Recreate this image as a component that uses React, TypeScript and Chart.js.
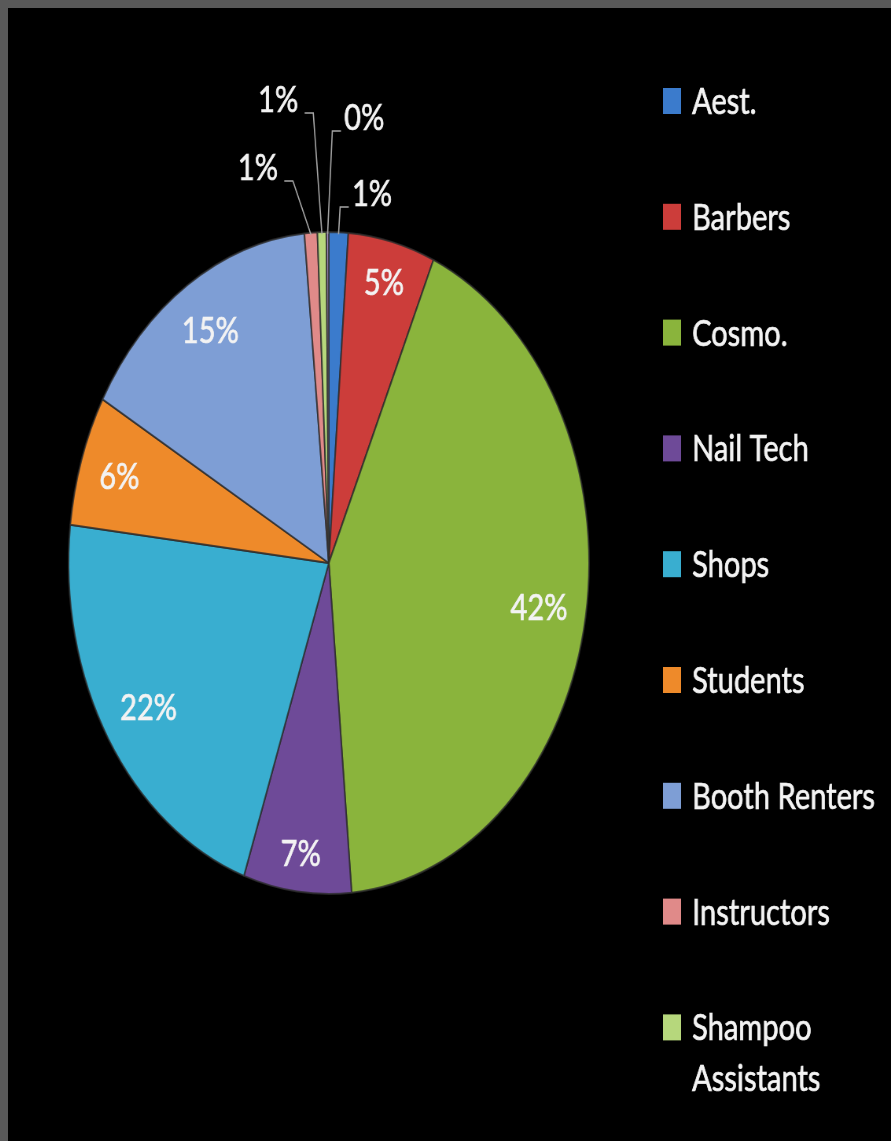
import React, { useEffect, useRef } from 'react';
import { Chart, ArcElement, PieController } from 'chart.js';

Chart.register(ArcElement, PieController);

// ---- data ----
const categories = [
  'Aest.',
  'Barbers',
  'Cosmo.',
  'Nail Tech',
  'Shops',
  'Students',
  'Booth Renters',
  'Instructors',
  'Shampoo Assistants',
  'Other',
];
const shares = [1.2, 5.4, 42.1, 6.7, 21.6, 6.4, 15.3, 0.8, 0.55, 0.15];
const colors = [
  '#3b7bcc',
  '#cc3d3a',
  '#8ab43c',
  '#6e4a98',
  '#39aed0',
  '#ee8a2a',
  '#7e9ed5',
  '#e08a89',
  '#b6d77c',
  '#a58fc4',
];

// ---- layout constants (internal canvas units; canvas is squeezed horizontally by CSS) ----
const CSS_W = 883;
const CSS_H = 1133;
const SX = 1.272;
const W = Math.round(CSS_W * SX);
const FONT = '37px Lato, "Open Sans", sans-serif';
const TEXT_COLOR = '#f3f3f3';

// leader-line placement for the small slices (label annotations)
const LEADERS: Record<string, { lift: number; dx: number; side: number }> = {
  'Aest.': { lift: 25, dx: 2, side: 1 },
  Other: { lift: 101, dx: 6, side: 1 },
  'Shampoo Assistants': { lift: 119, dx: -11, side: -1 },
  Instructors: { lift: 51, dx: -23, side: -1 },
};

function wrap(ctx: CanvasRenderingContext2D, text: string, maxW: number): string[] {
  const words = text.split(' ');
  const lines: string[] = [];
  let cur = '';
  words.forEach((w) => {
    const t = cur ? cur + ' ' + w : w;
    if (cur && ctx.measureText(t).width > maxW) {
      lines.push(cur);
      cur = w;
    } else cur = t;
  });
  if (cur) lines.push(cur);
  return lines;
}

function drawText(ctx: CanvasRenderingContext2D, t: string, x: number, y: number) {
  ctx.fillText(t, x, y);
  ctx.strokeText(t, x, y);
}

const labelPlugin = {
  id: 'sliceLabels',
  afterDatasetsDraw(chart: any) {
    const ctx: CanvasRenderingContext2D = chart.ctx;
    const meta = chart.getDatasetMeta(0);
    const data = chart.data.datasets[0].data as number[];
    const total = data.reduce((a, b) => a + b, 0);
    ctx.save();
    ctx.font = FONT;
    meta.data.forEach((arc: any, i: number) => {
      const { x, y, startAngle, endAngle, outerRadius } = arc.getProps(
        ['x', 'y', 'startAngle', 'endAngle', 'outerRadius'],
        true
      );
      const mid = (startAngle + endAngle) / 2;
      const text = Math.round((data[i] / total) * 100) + '%';
      const w = ctx.measureText(text).width;
      const leader = LEADERS[chart.data.labels[i]];
      ctx.fillStyle = TEXT_COLOR;
      ctx.textBaseline = 'alphabetic';
      if (!leader) {
        const proj = (w / 2) * Math.abs(Math.cos(mid)) + 14 * Math.abs(Math.sin(mid));
        const r = outerRadius - proj - 22;
        ctx.textAlign = 'center';
        ctx.strokeStyle = TEXT_COLOR;
        ctx.lineWidth = 0.7;
        drawText(ctx, text, x + r * Math.cos(mid), y + r * Math.sin(mid) + 13);
      } else {
        const sx = x + (outerRadius - 2) * Math.cos(mid);
        const sy = y + (outerRadius - 2) * Math.sin(mid);
        const ey = y - outerRadius - leader.lift;
        const ex = sx + leader.dx;
        const hx = ex + leader.side * 11;
        ctx.strokeStyle = '#a6a6a6';
        ctx.lineWidth = 1.6;
        ctx.beginPath();
        ctx.moveTo(sx, sy);
        ctx.lineTo(ex, ey);
        ctx.lineTo(hx, ey);
        ctx.stroke();
        ctx.strokeStyle = TEXT_COLOR;
        ctx.lineWidth = 0.7;
        if (leader.side > 0) {
          ctx.textAlign = 'left';
          drawText(ctx, text, hx + 4, ey - 1);
        } else {
          ctx.textAlign = 'right';
          drawText(ctx, text, hx - 8, ey - 1);
        }
      }
    });
    ctx.restore();
  },
};

const legendPlugin = {
  id: 'sideLegend',
  afterDraw(chart: any) {
    const ctx: CanvasRenderingContext2D = chart.ctx;
    const ds = chart.data.datasets[0];
    ctx.save();
    ctx.font = FONT;
    ctx.textAlign = 'left';
    ctx.textBaseline = 'alphabetic';
    ctx.strokeStyle = TEXT_COLOR;
    ctx.lineWidth = 0.7;
    let y = 93;
    (chart.data.labels as string[]).forEach((lab, i) => {
      const lines = wrap(ctx, lab, 270);
      ctx.fillStyle = ds.backgroundColor[i];
      ctx.fillRect(833, y - 13, 23, 26);
      ctx.fillStyle = TEXT_COLOR;
      lines.forEach((ln, k) => drawText(ctx, ln, 870, y + 13 + k * 51));
      y += 115.8 + (lines.length - 1) * 51;
    });
    ctx.restore();
  },
};

export default function App() {
  const ref = useRef<HTMLCanvasElement>(null);
  useEffect(() => {
    document.body.style.margin = '8px 0 0 8px';
    document.body.style.background = '#595959';
    const chart = new Chart(ref.current as HTMLCanvasElement, {
      type: 'pie',
      data: {
        labels: categories,
        datasets: [
          {
            data: shares,
            backgroundColor: colors,
            borderColor: 'rgba(45,45,45,0.8)',
            borderWidth: 2,
          },
        ],
      },
      options: {
        responsive: false,
        animation: false,
        events: [],
        layout: { padding: { left: 76, right: W - 740, top: 223, bottom: CSS_H - 887 } },
        plugins: { legend: { display: false }, tooltip: { enabled: false } },
      } as any,
      plugins: [labelPlugin, legendPlugin],
    });
    return () => chart.destroy();
  }, []);
  return (
    <div style={{ width: CSS_W, height: CSS_H, background: '#000', overflow: 'hidden' }}>
      <canvas
        ref={ref}
        width={W}
        height={CSS_H}
        style={{ width: CSS_W + 'px', height: CSS_H + 'px', display: 'block' }}
      />
    </div>
  );
}
